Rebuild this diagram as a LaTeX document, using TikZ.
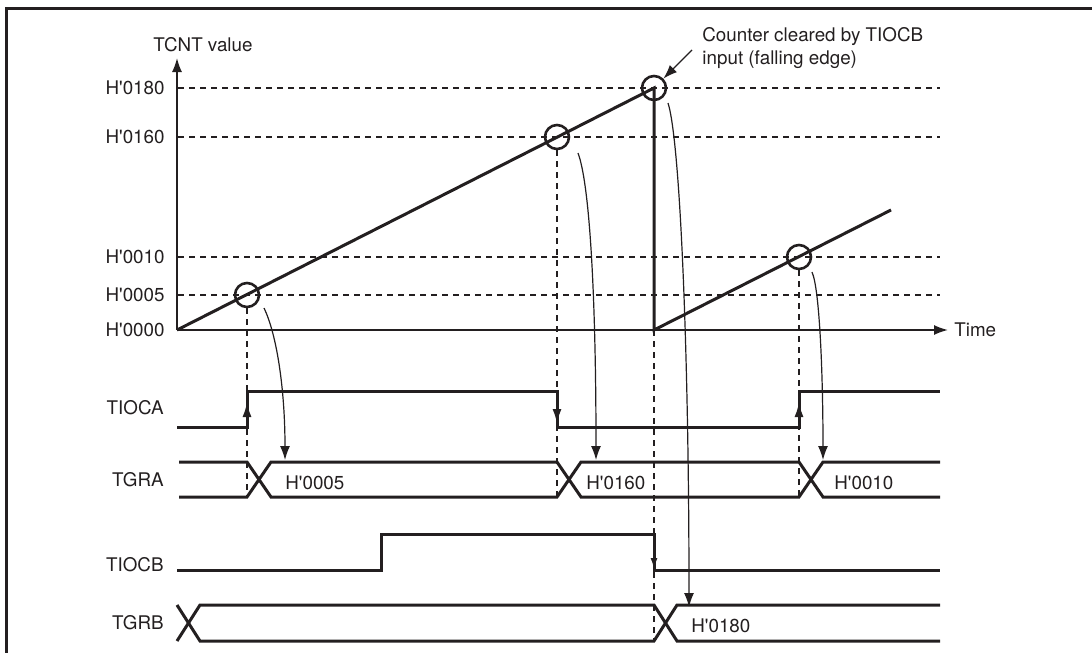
\documentclass[tikz,border=0pt]{standalone}
\usepackage{fontspec}
\setmainfont{TeX Gyre Heros}
\usepackage{xcolor}
\definecolor{tmrblack}{RGB}{35, 31, 32}
\usepackage{tikz}
\usetikzlibrary{arrows.meta}
\newcommand{\hval}[1]{H\textquotesingle#1}

\begin{document}
\begin{tikzpicture}[
    x=0.5pt, y=-0.5pt,
    every node/.style={font=\fontsize{9.4}{11.5}\selectfont, text=tmrblack, inner sep=0pt},
    sig/.style={draw=tmrblack, line width=1.5pt},
    guide/.style={draw=tmrblack, line width=0.75pt, dash pattern=on 3pt off 2.5pt},
    axisline/.style={draw=tmrblack, line width=0.8pt},
    ring/.style={circle, draw=tmrblack, line width=1.3pt, minimum size=12pt},
    transfer/.style={draw=tmrblack, line width=0.6pt, -{Latex[length=7pt,width=5pt]}},
    edgetip/.style={draw=tmrblack, line width=1.5pt, -{Latex[length=8pt,width=4.5pt]}},
    lvl/.style={anchor=east},
    busval/.style={anchor=west}
  ]
    \useasboundingbox (0,0) rectangle (1092,653);
    \draw[tmrblack, line width=1.5pt] (6,653) -- (6,8) -- (1092,8);

    % counter levels
    \foreach \val/\yy in {0180/88, 0160/137, 0010/257, 0005/295, 0000/330}
      \node[lvl] (lvl\val) at (165,\yy) {\hval{\val}};
    \foreach \yy in {88, 137, 257, 295}
      \draw[guide] (178,\yy) -- (940,\yy);

    \coordinate (origin) at (177,330);
    \coordinate (ytop) at (177,58);
    \coordinate (xend) at (948,330);
    \draw[axisline, -{Latex[length=7pt,width=5pt]}] (origin) -- (ytop);
    \draw[axisline, -{Latex[length=7pt,width=5pt]}] (origin) -- (xend);
    \node (ylabel) at (203,45) {TCNT value};
    \node[anchor=west] (xlabel) at (954,330) {Time};

    % TCNT ramp
    \coordinate (peak) at (654,88);
    \coordinate (reset) at (654,330);
    \coordinate (rampend) at (891,210);
    \draw[sig] (origin) -- (peak) -- (reset) -- (rampend);

    \node[ring] (hit0005) at (247,295) {};
    \node[ring] (hit0160) at (557,137) {};
    \node[ring] (hit0180) at (654,88) {};
    \node[ring] (hit0010) at (799,257) {};

    \node[anchor=west, align=left] (clearnote) at (702,48) {Counter cleared by TIOCB\\input (falling edge)};
    \coordinate (notetail) at (692,50);
    \draw[tmrblack, line width=0.6pt, -{Latex[length=7pt,width=5pt]}] (notetail) -- (hit0180.north east);

    % compare match drops
    \coordinate (drop0005) at (247,497);
    \coordinate (drop0160) at (557,497);
    \coordinate (drop0180) at (654,641);
    \coordinate (drop0010) at (799,497);
    \draw[guide] (hit0005.south) -- (drop0005);
    \draw[guide] (hit0160.south) -- (drop0160);
    \draw[guide] (reset) -- (drop0180);
    \draw[guide] (hit0010.south) -- (drop0010);

    % signal names
    \node[anchor=east] (tioca) at (164,408) {TIOCA};
    \node[anchor=east] (tgra) at (164,480) {TGRA};
    \node[anchor=east] (tiocb) at (164,565) {TIOCB};
    \node[anchor=east] (tgrb) at (164,623) {TGRB};

    % TIOCA
    \draw[sig] (177,427) -- (247,427) -- (247,391) -- (557,391) -- (557,427)
      -- (799,427) -- (799,391) -- (940,391);
    \draw[edgetip] (247,427) -- (247,401);
    \draw[edgetip] (557,391) -- (557,425);
    \draw[edgetip] (799,427) -- (799,401);

    % TGRA
    \draw[sig] (179,462) -- (247,462) -- (271,497) -- (557,497) -- (581,462)
      -- (799,462) -- (823,497) -- (940,497);
    \draw[sig] (179,497) -- (247,497) -- (271,462) -- (557,462) -- (581,497)
      -- (799,497) -- (823,462) -- (940,462);
    \node[busval] (val0005) at (285,483) {\hval{0005}};
    \node[busval] (val0160) at (586,483) {\hval{0160}};
    \node[busval] (val0010) at (834,483) {\hval{0010}};

    % TIOCB
    \draw[sig] (177,570) -- (381,570) -- (381,534) -- (654,534) -- (654,570) -- (940,570);
    \draw[tmrblack, line width=1.2pt, -{Latex[length=6pt,width=3.5pt]}] (654,548) -- (654,570);

    % TGRB
    \draw[sig] (177,605) -- (200,641) -- (654,641) -- (677,605) -- (940,605);
    \draw[sig] (177,641) -- (200,605) -- (654,605) -- (677,641) -- (940,641);
    \node[busval] (val0180) at (691,626) {\hval{0180}};

    % register transfers
    \coordinate (from0005) at (264,308);
    \coordinate (from0160) at (578,153);
    \coordinate (from0180) at (668,103);
    \coordinate (from0010) at (812,272);
    \coordinate (into0005) at (285,460);
    \coordinate (into0160) at (596,460);
    \coordinate (into0180) at (689,607);
    \coordinate (into0010) at (823,460);
    \draw[transfer] (from0005) .. controls (277,335) and (285,390) .. (into0005);
    \draw[transfer] (from0160) .. controls (590,185) and (596,300) .. (into0160);
    \draw[transfer] (from0180) .. controls (680,140) and (689,350) .. (into0180);
    \draw[transfer] (from0010) .. controls (820,290) and (823,380) .. (into0010);
  \end{tikzpicture}
\end{document}
